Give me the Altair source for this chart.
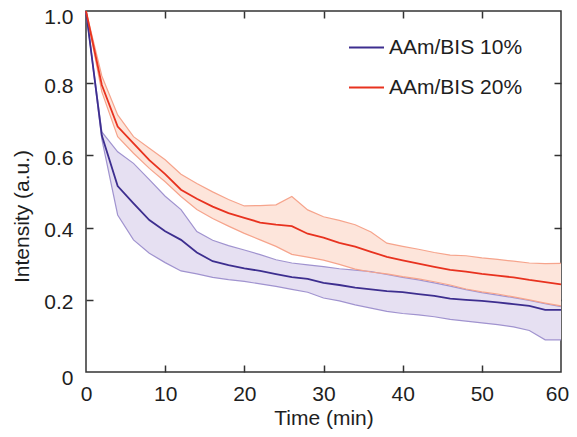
import altair as alt
import pandas as pd

time = list(range(0, 61, 2))

b_mean = [1.0, 0.655, 0.515, 0.467, 0.421, 0.390, 0.366, 0.331, 0.307, 0.296, 0.287,
          0.280, 0.271, 0.263, 0.258, 0.247, 0.241, 0.234, 0.229, 0.224, 0.221,
          0.216, 0.211, 0.203, 0.200, 0.197, 0.193, 0.188, 0.183, 0.172, 0.172]
b_hi = [1.0, 0.665, 0.610, 0.578, 0.533, 0.487, 0.450, 0.389, 0.365, 0.350, 0.338,
        0.325, 0.311, 0.302, 0.297, 0.292, 0.286, 0.282, 0.278, 0.270, 0.262,
        0.255, 0.247, 0.238, 0.228, 0.220, 0.213, 0.206, 0.198, 0.189, 0.181]
b_lo = [1.0, 0.645, 0.435, 0.366, 0.329, 0.303, 0.280, 0.272, 0.262, 0.256, 0.251,
        0.244, 0.237, 0.229, 0.221, 0.205, 0.197, 0.186, 0.177, 0.168, 0.162,
        0.158, 0.153, 0.146, 0.141, 0.136, 0.131, 0.125, 0.115, 0.089, 0.089]

r_mean = [1.0, 0.795, 0.680, 0.633, 0.587, 0.548, 0.505, 0.480, 0.458, 0.440, 0.427,
          0.414, 0.408, 0.404, 0.383, 0.372, 0.358, 0.347, 0.333, 0.319, 0.309,
          0.300, 0.291, 0.283, 0.278, 0.272, 0.267, 0.262, 0.255, 0.249, 0.243]
r_hi = [1.0, 0.820, 0.712, 0.652, 0.620, 0.588, 0.548, 0.522, 0.499, 0.478, 0.460,
        0.461, 0.463, 0.486, 0.449, 0.430, 0.420, 0.408, 0.388, 0.357, 0.348,
        0.340, 0.331, 0.324, 0.322, 0.316, 0.312, 0.307, 0.302, 0.300, 0.301]
r_lo = [1.0, 0.776, 0.652, 0.606, 0.564, 0.527, 0.486, 0.450, 0.425, 0.404, 0.384,
        0.366, 0.348, 0.326, 0.318, 0.310, 0.298, 0.285, 0.277, 0.272, 0.264,
        0.258, 0.250, 0.241, 0.230, 0.222, 0.216, 0.208, 0.200, 0.191, 0.183]

series_names = ["AAm/BIS 10%", "AAm/BIS 20%"]
line_colors = ["#3d2e8f", "#e8321f"]
band_strokes = ["#a093cf", "#f6a48c"]
band_fills = ["#e6e0f2", "#fde5db"]

x_ticks = [0, 10, 20, 30, 40, 50, 60]
x_inner_ticks = [10, 20, 30, 40, 50]
y_ticks = [0, 0.2, 0.4, 0.6, 0.8, 1.0]
y_inner_ticks = [0.2, 0.4, 0.6, 0.8]

rows = []
for name, m, lo, hi in [(series_names[0], b_mean, b_lo, b_hi),
                        (series_names[1], r_mean, r_lo, r_hi)]:
    for t, a, b, c in zip(time, m, lo, hi):
        rows.append({"t": t, "mean": a, "lo": b, "hi": c, "series": name})
df = pd.DataFrame(rows)

FONT = "Liberation Sans"
TXT = "#1e1e1e"
FRAME = "#333333"
FS = 21

xs = alt.Scale(domain=[0, 60], nice=False, zero=False)
ys = alt.Scale(domain=[0, 1], nice=False, zero=False)

ax_x_main = alt.Axis(values=x_ticks, tickSize=0, domain=False, grid=False,
                     labelFontSize=FS, labelPadding=28, labelBaseline="alphabetic",
                     labelFlush=False, labelColor=TXT, labelFont=FONT,
                     labelOffset={"condition": {"test": "datum.value == 60", "value": -4},
                                  "value": 0},
                     title="Time (min)", titleFontSize=FS, titleFont=FONT,
                     titleFontWeight="normal", titleColor=TXT,
                     titleBaseline="alphabetic", titleY=52)
ax_y_main = alt.Axis(values=y_ticks, tickSize=0, domain=False, grid=False,
                     labelFontSize=FS, labelPadding=13, labelFlush=False,
                     labelColor=TXT, labelFont=FONT,
                     labelOffset={"condition": [{"test": "datum.value == 0", "value": 6},
                                                {"test": "datum.value == 1", "value": 6}],
                                  "value": 3},
                     labelExpr="datum.value == 0 ? '0' : format(datum.value, '.1f')",
                     title="Intensity (a.u.)", titleFontSize=FS, titleFont=FONT,
                     titleFontWeight="normal", titleColor=TXT,
                     titleBaseline="alphabetic", titleX=-58, titleY=205)


def tick_axis(orient, vals):
    return alt.Axis(orient=orient, values=vals, tickSize=7, offset=-7, labels=False,
                    domain=False, grid=False, title=None, tickWidth=1.5,
                    tickColor=FRAME)


base = alt.Chart(df)


def band_area(i, xaxis, yaxis):
    return base.transform_filter(alt.datum.series == series_names[i]).mark_area(
        color=band_fills[i], opacity=1
    ).encode(
        x=alt.X("t:Q", scale=xs, axis=xaxis),
        y=alt.Y("lo:Q", scale=ys, axis=yaxis),
        y2="hi:Q",
    )


def band_edge(i, field, xaxis=None, yaxis=None):
    return base.transform_filter(alt.datum.series == series_names[i]).mark_line(
        color=band_strokes[i], strokeWidth=1.2
    ).encode(
        x=alt.X("t:Q", scale=xs, axis=xaxis),
        y=alt.Y(f"{field}:Q", scale=ys, axis=yaxis),
    )


means = base.mark_line(strokeWidth=1.8).encode(
    x=alt.X("t:Q", scale=xs, axis=None),
    y=alt.Y("mean:Q", scale=ys, axis=None),
    color=alt.Color("series:N",
                    scale=alt.Scale(domain=series_names, range=line_colors),
                    legend=alt.Legend(orient="none", legendX=262, legendY=18,
                                      title=None, symbolType="stroke",
                                      symbolSize=1225, symbolStrokeWidth=2,
                                      labelFontSize=FS, labelFont=FONT,
                                      labelColor=TXT, labelOffset=4,
                                      rowPadding=11, padding=0)),
)

chart = alt.layer(
    band_area(0, ax_x_main, ax_y_main),
    band_area(1, tick_axis("bottom", x_inner_ticks), tick_axis("left", y_inner_ticks)),
    band_edge(0, "hi", tick_axis("top", x_inner_ticks), tick_axis("right", y_inner_ticks)),
    band_edge(0, "lo"),
    band_edge(1, "hi"),
    band_edge(1, "lo"),
    means,
).resolve_axis(
    x="independent", y="independent"
).properties(
    width=475, height=361,
    autosize=alt.AutoSizeParams(type="none"),
    padding={"left": 78, "top": 3, "right": 8, "bottom": 57},
    background="white",
).configure_view(
    stroke=FRAME, strokeWidth=1.5
)

chart.save("out.html", embed_options={"renderer": "svg", "actions": False})
